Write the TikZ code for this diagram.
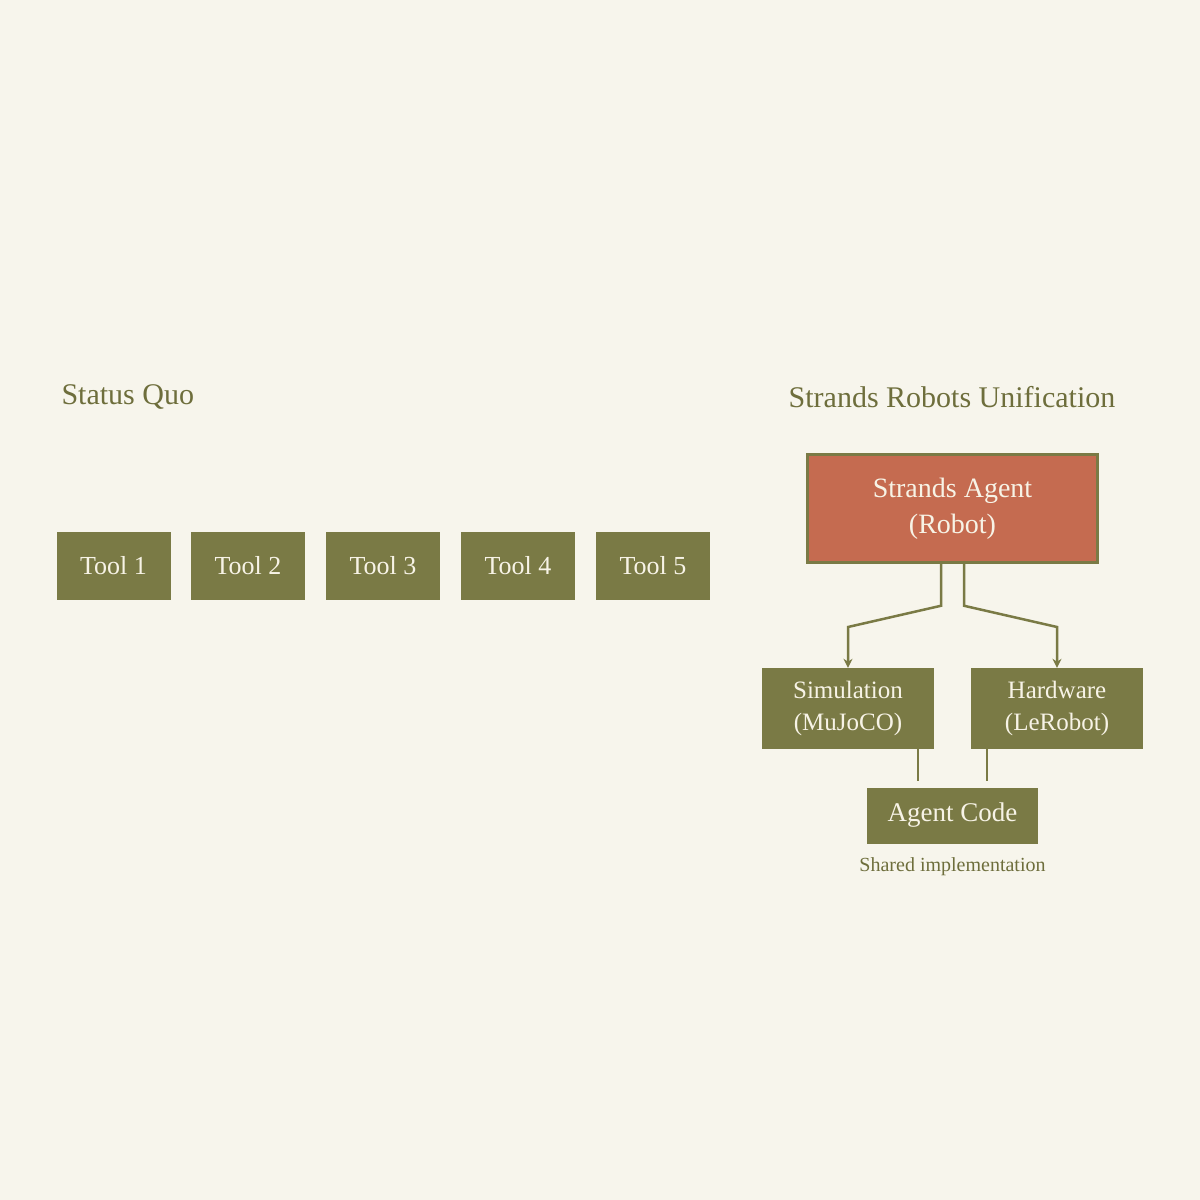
\documentclass[tikz,border=0pt]{standalone}
\usepackage{fontspec}
\setmainfont{Liberation Serif}
\usepackage{tikz}
\usetikzlibrary{positioning,arrows.meta}
\definecolor{paper}{HTML}{F7F5EC}
\definecolor{olive}{HTML}{7A7A45}
\definecolor{olivetext}{HTML}{6E6E3C}
\definecolor{brick}{HTML}{C56B50}
\definecolor{cream}{HTML}{F7F3E6}
\tikzset{
  toolbox/.style={rectangle,fill=olive,text=cream,inner sep=0pt,minimum width=114pt,minimum height=68pt,font=\fontsize{26}{30}\selectfont},
  subbox/.style={rectangle,fill=olive,text=cream,inner sep=0pt,minimum width=172pt,minimum height=81pt,align=center,font=\fontsize{25}{32}\selectfont},
  heading/.style={text=olivetext,font=\fontsize{30}{34}\selectfont},
  link/.style={draw=olive,line width=2.5pt},
}
\begin{document}
\begin{tikzpicture}[x=1pt,y=-1pt]
        \fill[paper] (0,0) rectangle (1200,1200);
        \useasboundingbox (0,0) rectangle (1200,1200);

        % left side
        \node[heading,anchor=west] (quo) at (58,397) {Status Quo};
        \node[toolbox] (tool1) at (113.5,566) {Tool 1};
        \node[toolbox] (tool2) at (248,566) {Tool 2};
        \node[toolbox] (tool3) at (383,566) {Tool 3};
        \node[toolbox] (tool4) at (518,566) {Tool 4};
        \node[toolbox] (tool5) at (653,566) {Tool 5};

        % right side
        \node[heading] (unif) at (952,397) {Strands Robots Unification};
        \node[rectangle,fill=brick,draw=olive,line width=2.5pt,text=cream,minimum width=290pt,minimum height=108pt,align=center,font=\fontsize{28}{36}\selectfont] (agent) at (952.5,508.5) {Strands Agent\\(Robot)};
        \node[subbox] (sim) at (848,708.5) {Simulation\\(MuJoCO)};
        \node[subbox] (hw) at (1057,708.5) {Hardware\\(LeRobot)};
        \node[toolbox,minimum width=171pt,minimum height=56pt,font=\fontsize{27}{30}\selectfont] (code) at (952.5,815.5) {Agent Code};
        \node[text=olivetext,font=\fontsize{20}{24}\selectfont,below=10pt of code] (shared) {Shared implementation};

        \draw[link,-{Stealth[length=9pt,width=9pt]}] ([xshift=-11.5pt]agent.south) -- ++(0,42) -- (848,627) -- (sim.north);
        \draw[link,-{Stealth[length=9pt,width=9pt]}] ([xshift=11.5pt]agent.south) -- ++(0,42) -- (1057,627) -- (hw.north);
        \draw[link] (918,749) -- (918,781);
        \draw[link] (987,749) -- (987,781);

    \end{tikzpicture}
\end{document}
